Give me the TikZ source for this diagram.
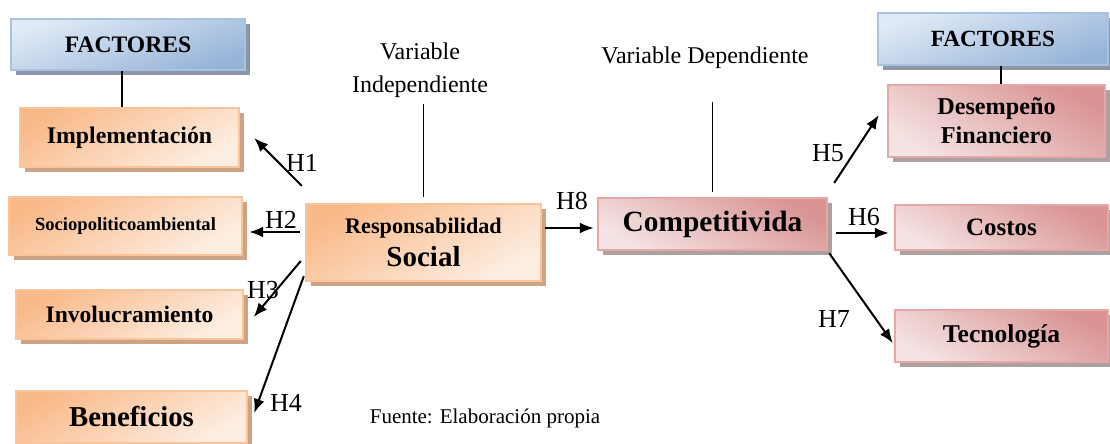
\documentclass[tikz,border=0pt]{standalone}
\usepackage{fontspec}
\setmainfont{Liberation Serif}
\usetikzlibrary{arrows.meta, calc, shadows}

\definecolor{orDark}{RGB}{249,186,138}
\definecolor{orLight}{RGB}{253,238,226}
\definecolor{orLine}{RGB}{250,196,152}
\definecolor{orShadow}{RGB}{204,163,134}
\definecolor{pkDark}{RGB}{217,148,147}
\definecolor{pkLight}{RGB}{245,226,226}
\definecolor{pkLine}{RGB}{228,168,168}
\definecolor{pkShadow}{RGB}{172,160,160}
\definecolor{blDark}{RGB}{150,180,216}
\definecolor{blLight}{RGB}{224,234,246}
\definecolor{blLine}{RGB}{168,194,226}
\definecolor{blShadow}{RGB}{140,150,166}

\tikzset{
  factbox/.style={draw=blLine, line width=1pt, top color=blLight, bottom color=blDark, shading angle=20,
    drop shadow={shadow xshift=2.5pt, shadow yshift=-2.5pt, fill=blShadow, opacity=1}, inner sep=0pt},
  indbox/.style={draw=orLine, line width=1.2pt, top color=orDark, bottom color=orLight, shading angle=30,
    drop shadow={shadow xshift=2.5pt, shadow yshift=-2.5pt, fill=orShadow, opacity=1}, align=center, inner sep=0pt},
  depbox/.style={draw=pkLine, line width=1.2pt, top color=pkDark, bottom color=pkLight, shading angle=-30,
    drop shadow={shadow xshift=2.5pt, shadow yshift=-2.5pt, fill=pkShadow, opacity=1}, align=center, inner sep=0pt},
  hyp/.style={line width=1pt, -{Latex[length=7pt, width=5.5pt]}},
  hlab/.style={font=\rmfamily\fontsize{13}{13}\selectfont, inner sep=0pt},
  varlab/.style={font=\rmfamily\fontsize{12}{16.5}\selectfont, align=center}
}

\begin{document}
\begin{tikzpicture}[x=0.5pt, y=-0.5pt]
  \useasboundingbox (0,0) rectangle (1110,444);

  % left side: factors of the independent variable
  \node [factbox, minimum width=117pt, minimum height=25.5pt, font=\bfseries\fontsize{11.8}{14}\selectfont] (facL) at (128,44.5) {FACTORES};
  \node [indbox, minimum width=109.5pt, minimum height=29.5pt, font=\bfseries\fontsize{11.9}{14}\selectfont] (impl) at (129.5,137.5) {Implementación};
  \node [indbox, minimum width=116.5pt, minimum height=29pt, font=\bfseries\fontsize{9.3}{11}\selectfont] (socio) at (125.5,226) {Sociopoliticoambiental};
  \node [indbox, minimum width=113.5pt, minimum height=24.5pt, font=\bfseries\fontsize{11.8}{14}\selectfont] (invol) at (129.5,314.5) {Involucramiento};
  \node [indbox, minimum width=115.5pt, minimum height=26pt, font=\bfseries\fontsize{14.4}{16}\selectfont] (benef) at (131.5,417) {Beneficios};

  % the two variables
  \node [indbox, minimum width=117.5pt, minimum height=38.5pt] (rs) at (423.5,242.5)
    {\bfseries\fontsize{11.1}{15}\selectfont Responsabilidad\\[3pt]\bfseries\fontsize{14.5}{15}\selectfont Social};
  \node [depbox, minimum width=114.5pt, minimum height=26pt, font=\bfseries\fontsize{14.7}{16}\selectfont] (comp) at (712.5,224) {Competitivida};

  \node [varlab] (varI) at (420,70) {Variable\\Independiente};
  \node [varlab] (varD) at (705,58) {Variable Dependiente};

  % right side: factors of the dependent variable
  \node [factbox, minimum width=115pt, minimum height=26pt, font=\bfseries\fontsize{11.6}{14}\selectfont] (facR) at (993,39) {FACTORES};
  \node [depbox, minimum width=108.5pt, minimum height=36pt, font=\bfseries\fontsize{12.1}{14.5}\selectfont] (desem) at (996.5,121) {Desempeño\\Financiero};
  \node [depbox, minimum width=106.5pt, minimum height=22.5pt, font=\bfseries\fontsize{12.5}{14}\selectfont] (costos) at (1001.5,227.5) {Costos};
  \node [depbox, minimum width=106.5pt, minimum height=26pt, font=\bfseries\fontsize{12.8}{14}\selectfont] (tecno) at (1001.5,336) {Tecnología};

  \node [font=\rmfamily\fontsize{10.5}{12}\selectfont] (fuente) at (485,418) {Fuente: Elaboración propia};

  % plain links
  \draw [line width=0.8pt] ([xshift=-3pt]facL.south) -- ([xshift=-3pt]facL.south |- impl.north);
  \draw [line width=0.8pt] ([xshift=4pt]facR.south) -- ([xshift=4pt]facR.south |- desem.north);
  \draw [line width=0.8pt, shorten >=3pt] (varI.south -| rs.north) -- (rs.north);
  \draw [line width=0.8pt, shorten <=13pt, shorten >=2.5pt] (varD.south -| comp.north) -- (comp.north);

  % hypotheses
  \draw [hyp] ($(rs.north west)+(-3,-17)$) -- ($(impl.east)+(14,0.5)$);
  \draw [hyp] ($(rs.west)+(-5,-10.5)$) -- ($(socio.east)+(6,6)$);
  \draw [hyp] ($(rs.west)+(-4,18.5)$) -- ($(invol.east)+(9.5,2.5)$);
  \draw [hyp] ($(rs.south west)+(-1,-6)$) -- ($(benef.east)+(6,-4)$);
  \draw [hyp] ($(rs.east)+(3,-14.5)$) -- ($(comp.west)+(-3,4)$);
  \draw [hyp] ($(comp.east)+(6,-41)$) -- ($(desem.west)+(-8,-6)$);
  \draw [hyp] ($(comp.east)+(8,9)$) -- ($(costos.west)+(-5,5.5)$);
  \draw [hyp] ($(comp.south east)+(1,2)$) -- ($(tecno.west)+(-1,7)$);

  \node [hlab] (h1) at (302,163) {H1};
  \node [hlab] (h2) at (281,220) {H2};
  \node [hlab] (h3) at (263,290) {H3};
  \node [hlab] (h4) at (286,403) {H4};
  \node [hlab] (h5) at (828,153) {H5};
  \node [hlab] (h6) at (864,217) {H6};
  \node [hlab] (h7) at (834,319) {H7};
  \node [hlab] (h8) at (572,201) {H8};
\end{tikzpicture}
\end{document}
